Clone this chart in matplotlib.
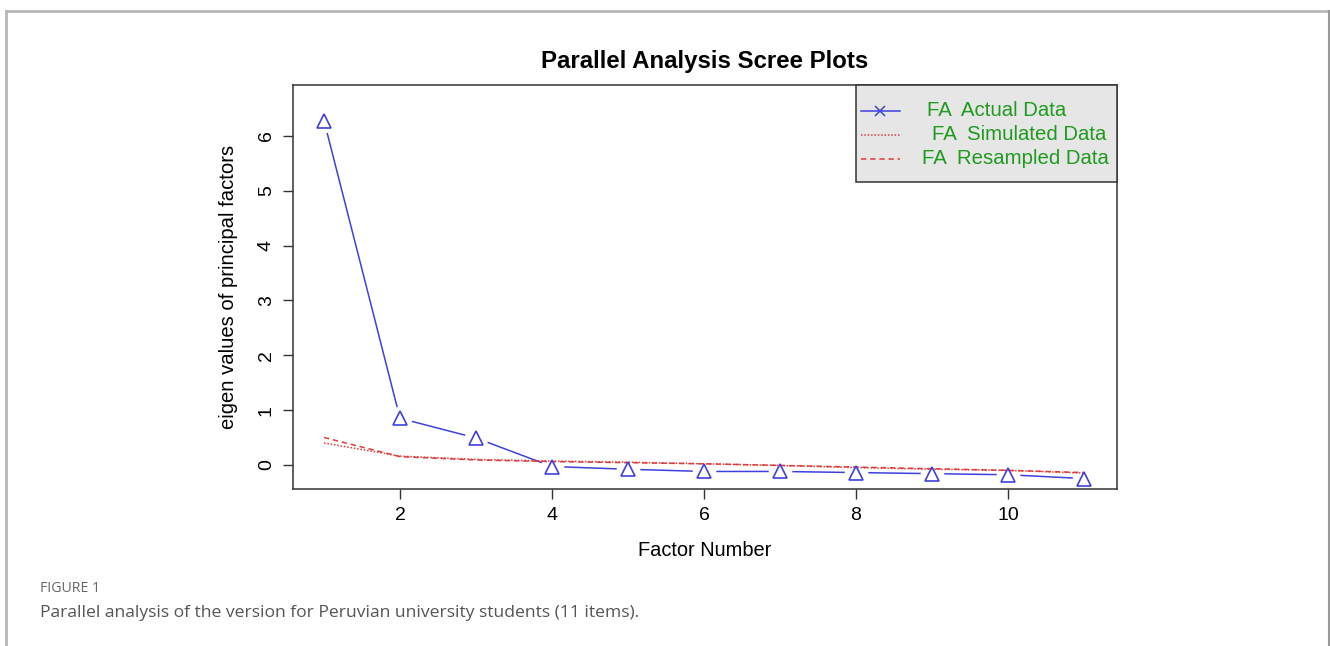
import matplotlib
matplotlib.use("Agg")
import matplotlib.pyplot as plt
from matplotlib.lines import Line2D

factors = [1, 2, 3, 4, 5, 6, 7, 8, 9, 10, 11]
actual = [6.28, 0.85, 0.49, -0.03, -0.08, -0.12, -0.12, -0.14, -0.16, -0.18, -0.25]
simulated = [0.40, 0.16, 0.10, 0.07, 0.05, 0.02, -0.01, -0.05, -0.08, -0.10, -0.15]
resampled = [0.50, 0.15, 0.09, 0.06, 0.04, 0.02, -0.01, -0.04, -0.07, -0.10, -0.14]
xticks = [2, 4, 6, 8, 10]
yticks = [0, 1, 2, 3, 4, 5, 6]
legend_labels = ["FA  Actual Data", "FA  Simulated Data", "FA  Resampled Data"]

W, H = 1330, 646
fig = plt.figure(figsize=(W / 100, H / 100), dpi=100)
fig.patch.set_facecolor("white")
plt.rcParams["font.family"] = ["Liberation Sans", "DejaVu Sans"]

# outer frame (open at the bottom)
frame_col = "#b8b8b8"
fig.add_artist(Line2D([6 / W, 6 / W], [0, 1 - 11 / H], transform=fig.transFigure, color=frame_col, lw=2))
fig.add_artist(Line2D([6 / W, 1329 / W], [1 - 11 / H, 1 - 11 / H], transform=fig.transFigure, color=frame_col, lw=2))
fig.add_artist(Line2D([1329 / W, 1329 / W], [0, 1 - 11 / H], transform=fig.transFigure, color="#999999", lw=1.5))

x0, x1, y0, y1 = 293, 1117, 85, 489
ax = fig.add_axes([x0 / W, 1 - y1 / H, (x1 - x0) / W, (y1 - y0) / H])

blue = "#4040dc"
red = "#e03a3a"
ax.plot(factors, actual, color=blue, lw=1.1, zorder=2)
ax.plot(factors, actual, ls="none", marker="o", ms=17, mfc="white", mec="none", zorder=2.5)
ax.plot(factors, simulated, color=red, lw=1.1, ls=(0, (1, 1.2)), zorder=3)
ax.plot(factors, resampled, color=red, lw=1.1, ls=(0, (3.5, 2.5)), zorder=3)
ax.plot(factors, actual, ls="none", marker="^", ms=10, mfc="none", mec=blue, mew=1.2, zorder=4)

ax.set_xlim(0.592, 11.434)
ax.set_ylim(-0.44, 6.93)
ax.set_xticks(xticks)
ax.set_yticks(yticks)
ax.set_xticklabels([str(v) for v in xticks], fontsize=14)
ax.set_yticklabels([str(v) for v in yticks], fontsize=14, rotation=90, va="center")
ax.tick_params(axis="both", length=7, width=1, color="#333333", pad=6)
for s in ax.spines.values():
    s.set_color("#333333")
    s.set_linewidth(1.1)

ax.set_title("Parallel Analysis Scree Plots", fontsize=17.3, fontweight="bold", pad=12)
ax.set_xlabel("Factor Number", fontsize=14.4, labelpad=12)
ax.set_ylabel("eigen values of principal factors", fontsize=14.6, labelpad=14)

# legend drawn manually
lx0, lx1, ly0, ly1 = 856, 1117, 85, 182
fig.add_artist(plt.Rectangle((lx0 / W, 1 - ly1 / H), (lx1 - lx0) / W, (ly1 - ly0) / H,
                             transform=fig.transFigure, facecolor="#e6e6e6", edgecolor="#333333", lw=1.1, zorder=5))
rows = [111, 135, 159]
text_x = [927, 932, 922]
green = "#1f9a1f"
styles = [dict(color=blue, ls="-"), dict(color=red, ls=(0, (1, 1.2))), dict(color=red, ls=(0, (3.5, 2.5)))]
for i, (ry, tx, lab, st) in enumerate(zip(rows, text_x, legend_labels, styles)):
    yy = 1 - ry / H
    fig.add_artist(Line2D([861 / W, 900 / W], [yy, yy], transform=fig.transFigure, lw=1.1, zorder=6, **st))
    if i == 0:
        fig.add_artist(Line2D([880 / W], [yy], transform=fig.transFigure, marker="x", ms=7,
                              mec=blue, mew=1.1, ls="none", zorder=6))
    fig.text(tx / W, yy, lab, fontsize=14.7, color=green, va="center", ha="left", zorder=7)

# caption
fig.text(40 / W, 1 - 589 / H, "FIGURE 1", fontsize=10.2, color="#666666", va="center",
         family=["Open Sans", "DejaVu Sans"])
fig.text(40 / W, 1 - 613 / H, "Parallel analysis of the version for Peruvian university students (11 items).",
         fontsize=12.6, color="#555555", va="center", family=["Open Sans", "DejaVu Sans"])

fig.savefig("out.png", dpi=100)
